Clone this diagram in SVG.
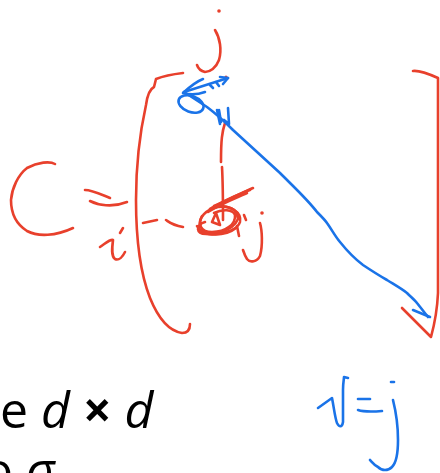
<svg xmlns="http://www.w3.org/2000/svg" width="440" height="473" viewBox="0 0 440 473">
<style>
.r{fill:none;stroke:#e8402c;stroke-width:2.6;stroke-linecap:round;stroke-linejoin:round}
.b{fill:none;stroke:#1a73e8;stroke-width:2.6;stroke-linecap:round;stroke-linejoin:round}
.t{font-family:"Open Sans","Noto Sans",sans-serif;font-size:50px;fill:#000}
</style>
<rect width="440" height="473" fill="#fff"/>
<g id="text">
<text class="t" x="-28" y="150">o</text>
<text class="t" x="0" y="428">e <tspan font-style="italic">d</tspan> <tspan font-weight="bold">×</tspan> <tspan font-style="italic">d</tspan></text>
<text class="t" x="-17" y="488">o <tspan font-style="italic">σ</tspan></text>
</g>
<g id="red-sketch">
<circle cx="219" cy="11" r="1.8" fill="#e8402c"/>
<path class="r" d="M215,30 C220,38 222,50 219,60 C216,68 210,72 205,72 C201,71 198,68 197,65"/>
<path class="r" d="M183,73 Q166,75 156,79 L154,87 Q148,90 146,105 Q136,150 136,200 Q136,262 150,298 Q163,330 182,333 Q190,333 190,324"/>
<path class="r" d="M413,71 Q420,70 438,78 L438,293 Q437,315 431,337 L402,308"/>
<path class="r" d="M55,164 C50,161 38,162 27,168 C18,175 12,188 11,200 C11,213 16,224 27,231 C38,237 56,236 73,228"/>
<path class="r" d="M85,190 C92,190 100,194 110,198"/>
<path class="r" d="M90,201 C98,205 112,208 127,202"/>
<path class="r" d="M123,228 L120,233"/>
<path class="r" d="M100,247 C106,243 110,239 113,240 C112,248 111,256 115,259 C119,261 123,256 125,252"/>
<path class="r" d="M143,223 L157,220"/>
<path class="r" d="M166,220 C169,222 172,225 183,227"/>
<circle cx="226" cy="77" r="1.6" fill="#e8402c"/>
<path class="r" d="M225,123 C222,132 221,140 221,162"/>
<path class="r" d="M222,167 C223,185 223,200 223,220"/>
<path class="r" d="M205,222 C195,225 196,234 206,234 C220,236 238,230 240,222 C242,212 230,205 218,207 C206,209 198,218 200,227"/>
<path class="r" d="M199,229 C208,237 232,233 238,219 C240,210 226,203 212,208"/>
<path class="r" d="M202,216 C198,224 200,232 212,232 C226,232 236,224 235,215 C233,209 222,209 214,213"/>
<path class="r" d="M197,226 C204,238 226,236 236,228"/>
<path class="r" d="M210,209 C226,200 240,194 253,188"/>
<path class="r" d="M214,206 C229,199 243,192 250,190"/>
<path class="r" d="M208,212 C222,203 236,198 247,193"/>
<path class="r" d="M216,213 L212,222 L220,225 Z" fill="#e8402c"/>
<path class="r" d="M236,212 L238,218 M244,215 L246,220"/>
<path class="r" d="M237,226 L239,236"/>
<circle cx="262" cy="213" r="1.8" fill="#e8402c"/>
<path class="r" d="M260,223 C262,230 263,245 260,256 C257,262 250,263 247,259 C245,256 244,253 243,250"/>
</g>
<g id="blue-sketch">
<ellipse class="b" cx="191" cy="104" rx="13" ry="8" transform="rotate(20 191 104)"/>
<path class="b" d="M203,79 Q195,82 183,93 Q194,96 205,92"/>
<path class="b" d="M184,92 L228,78"/>
<path class="b" d="M220,77 L228,78 L223,84"/>
<path class="b" d="M210,85 L213,88 M216,82 L219,86"/>
<path class="b" d="M217,110 L220,124 M219,110 L221,122 M228,108 L229,124 L224,120"/>
<path class="b" d="M184,92 L207,107 C215,113 225,122 233,130 L280,173 C295,188 308,200 317,212 C322,217 325,220 327,223 C332,230 335,236 340,242 C348,252 355,259 363,265 C372,271 380,276 387,280 C395,285 402,289 407,293 C411,297 415,300 417,303 L428,317"/>
<path class="b" d="M413,310 L430,317"/>
<path class="b" d="M318,408 L332,398 C334,408 335,418 337,423 C339,427 342,428 343,422 L343,390 C343,383 344,379 344,377 L348,378"/>
<path class="b" d="M358,399 L370,399"/>
<path class="b" d="M358,410 C364,412 370,412 382,411"/>
<path class="b" d="M391,382 L394,382"/>
<path class="b" d="M393,400 C396,412 398,428 398,440 C398,455 396,463 392,467 C388,471 382,471 378,467 C374,465 372,462 370,460"/>
</g>
</svg>
